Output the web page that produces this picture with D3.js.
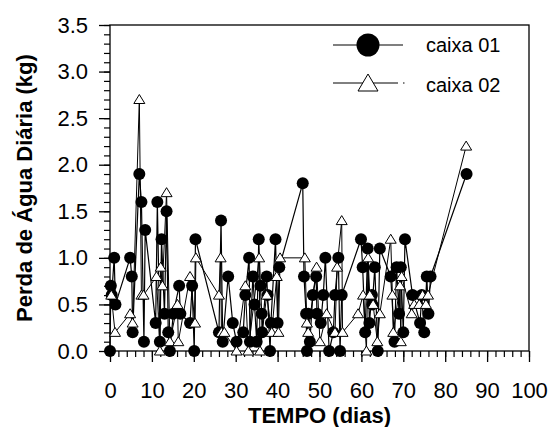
<!DOCTYPE html>
<html>
<head>
<meta charset="utf-8">
<script src="https://cdn.jsdelivr.net/npm/d3@7"></script>
<style>
  html, body { margin: 0; padding: 0; background: #fff; }
  svg text { font-family: "Liberation Sans", Arial, sans-serif; fill: #000; }
</style>
</head>
<body>
<svg id="chart" width="552" height="427"></svg>
<script>
// Daily water loss per box over the trial period
const caixa01Dias = [0, 0.2, 0.4, 1, 1.3, 4.8, 5.2, 5.4, 7, 7.5, 8.1, 8.4, 10.9, 11.3, 11.9, 12.3, 13, 13.5, 13.9, 14.3,
  15.1, 16.5, 16.8, 19.1, 19.6, 20.1, 20.4, 26, 26.5, 26.9, 28.2, 29.3, 30.2, 31.8, 32.3, 33.2, 33.4, 34.1, 34.5, 35,
  35.5, 35.9, 36.2, 36.3, 37.4, 37.6, 38.2, 38.4, 39.5, 40, 40.4, 46, 46.3, 46.8, 47, 47.3, 47.7, 48.4, 49.2, 49.4,
  50.3, 50.9, 51.4, 52.3, 53.3, 53.7, 54.5, 54.9, 55.3, 59.9, 60.3, 60.9, 61.5, 61.9, 62.5, 62.6, 63.2, 63.9, 64.4,
  67, 67.9, 68.4, 69, 69.4, 70, 70.4, 72.2, 74, 74.4, 75, 75.6, 76, 76.5, 85.1];
const caixa01Perda = [0.0, 0.7, 0.6, 1.0, 0.5, 1.0, 0.8, 0.2, 1.9, 1.6, 0.1, 1.3, 0.3, 1.6, 0.1, 1.2, 0.4, 1.5, 0.2, 0.0,
  0.4, 0.7, 0.4, 0.3, 0.7, 0.0, 1.2, 0.2, 1.4, 0.1, 0.8, 0.3, 0.1, 0.2, 0.6, 1.0, 0.1, 0.8, 0.5, 0.1,
  1.2, 0.7, 0.4, 0.2, 0.8, 0.6, 0.0, 0.3, 1.2, 0.3, 0.9, 1.8, 0.8, 0.4, 0.0, 0.4, 0.1, 0.6, 0.8, 0.4,
  0.3, 0.6, 1.0, 0.0, 0.2, 0.6, 1.0, 0.0, 0.6, 1.2, 0.9, 0.2, 1.1, 0.3, 0.6, 0.5, 0.9, 0.0, 1.1,
  0.8, 0.1, 0.9, 0.4, 0.9, 0.2, 1.2, 0.6, 0.3, 0.6, 0.2, 0.8, 0.4, 0.8, 1.9];

const caixa02Dias = [0.3, 1.2, 4.8, 5.4, 7, 7.5, 8, 11.1, 11.9, 12.1, 12.5, 13.5, 14.3, 16.1, 16.3, 19.1, 20.3, 20.5,
  26, 26.4, 26.6, 27.3, 30.2, 32.3, 33, 35.6, 35.8, 37.4, 38.6, 39.8, 40.2, 40.6, 46.5, 47, 47.3, 49.3, 50.1, 51.7,
  53.7, 54.2, 55.3, 55.5, 59.2, 60.4, 61.2, 61.6, 62, 62.8, 63.8, 64.4, 67, 67.4, 67.6, 69.2, 69.4, 69.6, 72, 72.6,
  73.8, 74.6, 75.4, 75.9, 85];
const caixa02Perda = [0.6, 0.2, 0.4, 0.3, 2.7, 0.6, 0.6, 0.8, 0.0, 0.9, 0.7, 1.7, 0.1, 0.5, 0.1, 0.8, 0.3, 1.0,
  0.6, 1.0, 0.2, 0.2, 0.0, 0.7, 0.0, 1.0, 0.0, 0.6, 0.2, 0.8, 0.2, 1.0, 1.0, 0.3, 0.2, 0.9, 0.1, 0.4,
  0.2, 0.9, 1.4, 0.2, 0.4, 0.6, 0.0, 1.0, 0.6, 0.5, 0.1, 0.4, 1.2, 0.6, 0.2, 0.7, 0.1, 0.8, 0.4, 0.5,
  0.5, 0.6, 0.5, 0.6, 2.2];

const xTicks = [0, 10, 20, 30, 40, 50, 60, 70, 80, 90, 100];
const yTicks = [0, 0.5, 1.0, 1.5, 2.0, 2.5, 3.0, 3.5];
const seriesNames = ["caixa 01", "caixa 02"];

const svg = d3.select("#chart");
const mLeft = 110, mRight = 529, mTop = 25, mBottom = 351;

const x = d3.scaleLinear().domain([0, 100]).range([mLeft, mRight]);
const y = d3.scaleLinear().domain([0, 3.5]).range([mBottom, mTop]);

// Minor ticks
svg.append("g")
  .attr("transform", `translate(0,${mBottom})`)
  .call(d3.axisBottom(x).tickValues(d3.range(0, 101, 2)).tickSize(6).tickFormat(""))
  .call(g => g.select(".domain").remove())
  .call(g => g.selectAll("line").attr("stroke", "#000").attr("stroke-width", 1.2));
svg.append("g")
  .attr("transform", `translate(${mLeft},0)`)
  .call(d3.axisLeft(y).tickValues(d3.range(0, 36).map(d => d / 10)).tickSize(6).tickFormat(""))
  .call(g => g.select(".domain").remove())
  .call(g => g.selectAll("line").attr("stroke", "#000").attr("stroke-width", 1.2));

// Major ticks with labels
svg.append("g")
  .attr("transform", `translate(0,${mBottom})`)
  .call(d3.axisBottom(x).tickValues(xTicks).tickSize(11).tickPadding(20).tickFormat(d3.format("d")))
  .call(g => g.select(".domain").remove())
  .call(g => g.selectAll("line").attr("stroke", "#000").attr("stroke-width", 1.3))
  .call(g => g.selectAll("text").attr("font-size", 22).attr("font-family", "Liberation Sans, Arial, sans-serif").attr("fill", "#000"));
svg.append("g")
  .attr("transform", `translate(${mLeft},0)`)
  .call(d3.axisLeft(y).tickValues(yTicks).tickSize(11).tickPadding(11).tickFormat(d3.format(".1f")))
  .call(g => g.select(".domain").remove())
  .call(g => g.selectAll("line").attr("stroke", "#000").attr("stroke-width", 1.3))
  .call(g => g.selectAll("text").attr("font-size", 22).attr("font-family", "Liberation Sans, Arial, sans-serif").attr("fill", "#000"));

// Frame
svg.append("rect")
  .attr("x", mLeft).attr("y", mTop)
  .attr("width", mRight - mLeft).attr("height", mBottom - mTop)
  .attr("fill", "none").attr("stroke", "#000").attr("stroke-width", 1.3);

// Axis titles
svg.append("text")
  .attr("x", (mLeft + mRight) / 2).attr("y", 423)
  .attr("text-anchor", "middle").attr("font-size", 22).attr("font-weight", "bold")
  .text("TEMPO (dias)");
svg.append("text")
  .attr("transform", `translate(32,${(mTop + mBottom) / 2}) rotate(-90)`)
  .attr("text-anchor", "middle").attr("font-size", 22).attr("font-weight", "bold")
  .text("Perda de Água Diária (kg)");

const line = d3.line().x(d => x(d[0])).y(d => y(d[1]));
const s1 = caixa01Dias.map((d, i) => [d, caixa01Perda[i]]);
const s2 = caixa02Dias.map((d, i) => [d, caixa02Perda[i]]);

const triangle = (r) => `M0,${-r}L${r * 1.1},${r * 0.8}L${-r * 1.1},${r * 0.8}Z`;

// caixa 01: line + filled circles
svg.append("path").datum(s1).attr("d", line)
  .attr("fill", "none").attr("stroke", "#000").attr("stroke-width", 1.2);
svg.append("g").selectAll("circle").data(s1).join("circle")
  .attr("cx", d => x(d[0])).attr("cy", d => y(d[1])).attr("r", 6)
  .attr("fill", "#000");

// caixa 02: line + open triangles
svg.append("path").datum(s2).attr("d", line)
  .attr("fill", "none").attr("stroke", "#000").attr("stroke-width", 1);
svg.append("g").selectAll("path").data(s2).join("path")
  .attr("transform", d => `translate(${x(d[0])},${y(d[1])})`)
  .attr("d", triangle(5))
  .attr("fill", "#fff").attr("stroke", "#000").attr("stroke-width", 1);

// Legend
const lg = svg.append("g");
lg.append("line").attr("x1", 333).attr("x2", 403).attr("y1", 45).attr("y2", 45)
  .attr("stroke", "#000").attr("stroke-width", 1.2);
lg.append("circle").attr("cx", 368).attr("cy", 45).attr("r", 11.5).attr("fill", "#000");
lg.append("text").attr("x", 426).attr("y", 52).attr("font-size", 20).text(seriesNames[0]);

lg.append("line").attr("x1", 333).attr("x2", 398).attr("y1", 83).attr("y2", 83)
  .attr("stroke", "#000").attr("stroke-width", 1);
lg.append("line").attr("x1", 403).attr("x2", 404.5).attr("y1", 83).attr("y2", 83)
  .attr("stroke", "#000").attr("stroke-width", 1);
lg.append("path").attr("transform", "translate(368,83)")
  .attr("d", "M0,-9L10,8L-10,8Z")
  .attr("fill", "#fff").attr("stroke", "#000").attr("stroke-width", 1);
lg.append("text").attr("x", 426).attr("y", 92).attr("font-size", 20).text(seriesNames[1]);
</script>
</body>
</html>
